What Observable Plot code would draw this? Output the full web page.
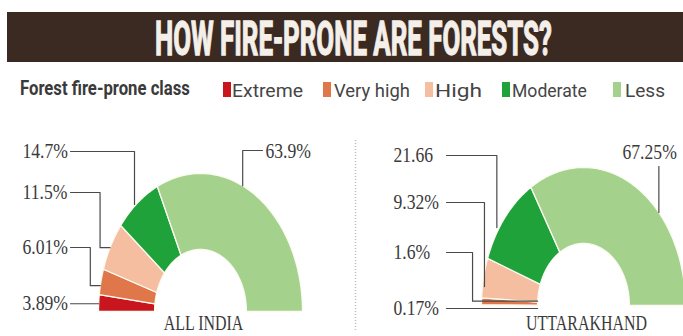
<!DOCTYPE html>
<html><head><meta charset="utf-8">
<script src="https://cdn.jsdelivr.net/npm/d3@7"></script>
<script src="https://cdn.jsdelivr.net/npm/@observablehq/plot@0.6"></script>
<style>
html,body{margin:0;padding:0;background:#fff;}
#wrap{width:683px;height:336px;overflow:hidden;position:relative;}
svg{display:block;}
</style></head><body><div id="wrap"></div>
<script>
// ---------- data ----------
const title = "HOW FIRE-PRONE ARE FORESTS?";
const legendTitle = "Forest fire-prone class";
const classes = ["Extreme", "Very high", "High", "Moderate", "Less"];
const classColors = ["#c9161e", "#e0774b", "#f6bea0", "#20a23a", "#a4d28d"];
const regions = ["ALL INDIA", "UTTARAKHAND"];
const allIndiaShares = [3.89, 6.01, 11.5, 14.7, 63.9];
const uttarakhandShares = [0.17, 1.6, 9.32, 21.66, 67.25];
const allIndiaLabels = ["3.89%", "6.01%", "11.5%", "14.7%", "63.9%"];
const uttarakhandLabels = ["0.17%", "1.6%", "9.32%", "21.66", "67.25%"];

// ---------- layout ----------
const W = 683, HEAD = 106, H = 230;
const RX = 102, RY = 138, INNER = 0.45;
const centerPx = [{px: 200, py: 311}, {px: 583, py: 305}];
const u = px => (px - centerPx[0].px) / RX;
const v = py => (centerPx[0].py - py) / RY;
const C = centerPx.map(c => ({x: u(c.px), y: v(c.py)}));

// leader layouts (t = position inside slice, row = label row in page px)
const leaderLayout = [
  { textX: 22, col: 70, items: [
    {t: 0.46, r: 1.0, row: null, dx: 0},
    {t: 0.35, r: 1.0, row: 247, dx: -10, tail: 1.0},
    {t: 0.47, r: 1.0, row: 192, dx: -10, tail: 1.0},
    {t: 0.44, r: 1.01, row: 151, dx: 0},
    {t: 0.43, r: 1.0, row: 150, dx: 0, textX: 265, col: 262, textRow: 151}
  ]},
  { textX: 393, col: 446, items: [
    {t: 0.0, r: INNER, row: 308, flat: true},
    {t: 0.52, r: 1.0, row: 252, dx: -9, tail: INNER},
    {t: 0.28, r: 1.0, row: 202, dx: 2},
    {t: 0.35, r: 1.02, row: 155, dx: 0},
    {t: 0.65, r: 1.0, row: 152, vertical: true, top: 166, textX: 622}
  ]}
];

const series = [
  {region: regions[0], shares: allIndiaShares, labels: allIndiaLabels},
  {region: regions[1], shares: uttarakhandShares, labels: uttarakhandLabels}
];

function pt(ci, f, r) {
  const th = Math.PI * (1 - f);
  return [C[ci].x + r * Math.cos(th), C[ci].y + r * Math.sin(th)];
}

const slices = [], leaders = [], labels = [], names = [];
series.forEach((s, ci) => {
  const total = d3.sum(s.shares);
  let acc = 0;
  s.shares.forEach((val, i) => {
    const a0 = acc / total, a1 = (acc + val) / total;
    acc += val;
    const key = ci + "-" + i;
    const n = Math.max(2, Math.ceil((a1 - a0) * 180));
    for (let k = 0; k <= n; k++) {
      const [x, y] = pt(ci, a0 + (a1 - a0) * k / n, 1);
      slices.push({key, cls: classes[i], x, y});
    }
    for (let k = n; k >= 0; k--) {
      const [x, y] = pt(ci, a0 + (a1 - a0) * k / n, INNER);
      slices.push({key, cls: classes[i], x, y});
    }
    // leader
    const L = leaderLayout[ci], it = L.items[i];
    const f = a0 + it.t * (a1 - a0);
    const [ax, ay] = pt(ci, f, it.r);
    const col = u(it.col ?? L.col);
    let pts;
    if (it.vertical) {
      pts = [[ax, v(it.top)], [ax, ay]];
    } else if (it.flat) {
      pts = [[col, v(it.row)], [ax, v(it.row)]];
    } else {
      const row = it.row == null ? ay : v(it.row);
      const ex = ax + it.dx / RX;
      pts = [[col, row], [ex, row], [ex, ay]];
      if (it.tail != null) pts.push([pt(ci, f, it.tail)[0], ay]);
    }
    pts.forEach(([x, y]) => leaders.push({key, x, y}));
    const textRow = it.textRow != null ? v(it.textRow) : (it.row == null ? ay : v(it.row));
    labels.push({x: u(it.textX ?? L.textX), y: textRow, text: s.labels[i]});
  });
  names.push({x: C[ci].x + 3 / RX, y: v(323), text: s.region});
});

// horizontal condensing helper (scale about the anchor point)
function condense(t, k, anchor) {
  const bb = t.getBBox();
  const p = anchor === "middle" ? bb.x + bb.width / 2 : bb.x;
  const prev = t.getAttribute("transform") || "";
  t.setAttribute("transform", `${prev} translate(${p},0) scale(${k},1) translate(${-p},0)`.trim());
}
function fitWidth(t, width) {
  const len = t.getComputedTextLength();
  condense(t, width / len, "start");
}

// ---------- header (title + legend) ----------
const wrap = d3.select("#wrap");
const head = wrap.append("svg").attr("width", W).attr("height", HEAD);
head.append("rect").attr("x", 7).attr("y", 12).attr("width", W - 7).attr("height", 50).attr("fill", "#3b2a22");
const tt = head.append("text").attr("x", 155).attr("y", 55)
  .attr("font-family", "Roboto, 'Liberation Sans', sans-serif").attr("font-weight", "bold")
  .attr("font-size", 49).attr("fill", "#f4efe9").attr("stroke", "#f4efe9").attr("stroke-width", 1.4)
  .text(title);
fitWidth(tt.node(), 397);
const lt = head.append("text").attr("x", 20).attr("y", 95)
  .attr("font-family", "Roboto, 'Liberation Sans', sans-serif").attr("font-weight", "bold")
  .attr("font-size", 20).attr("fill", "#3a3a3a").text(legendTitle);
fitWidth(lt.node(), 170);
const legendPos = [{sw: 223, tx: 232, tl: 71}, {sw: 323, tx: 334, tl: 76}, {sw: 425, tx: 435, tl: 47}, {sw: 502, tx: 512, tl: 75}, {sw: 613, tx: 625, tl: 40}];
classes.forEach((c, i) => {
  const p = legendPos[i];
  head.append("rect").attr("x", p.sw).attr("y", 82).attr("width", 8).attr("height", 15).attr("fill", classColors[i]);
  const t = head.append("text").attr("x", p.tx).attr("y", 97)
    .attr("font-family", "Roboto, 'Liberation Sans', sans-serif")
    .attr("font-size", 19).attr("fill", "#454545").text(c);
  fitWidth(t.node(), p.tl);
});

// ---------- chart ----------
const chart = Plot.plot({
  width: W, height: H,
  marginTop: 0, marginBottom: 0, marginLeft: 0, marginRight: 0,
  x: {domain: [u(0), u(W)], range: [0, W], axis: null},
  y: {domain: [v(HEAD + H), v(HEAD)], range: [H, 0], axis: null},
  color: {domain: classes, range: classColors},
  style: {background: "transparent"},
  marks: [
    Plot.ruleX([{x: u(355), y1: v(140), y2: v(330)}], {x: "x", y1: "y1", y2: "y2", stroke: "#bdbdbd", strokeWidth: 1.5, strokeDasharray: "1,2"}),
    Plot.line(slices, {x: "x", y: "y", z: "key", fill: "cls", stroke: "#fbfbf2", strokeWidth: 1.3, curve: "linear-closed"}),
    Plot.line(leaders, {x: "x", y: "y", z: "key", stroke: "#4a4a4a", strokeWidth: 1.2}),
    Plot.text(labels, {x: "x", y: "y", text: "text", textAnchor: "start", fontSize: 21, fontFamily: "'Liberation Serif', serif", fill: "#3a3a3a"}),
    Plot.text(names, {x: "x", y: "y", text: "text", textAnchor: "middle", fontSize: 21, fontFamily: "'Liberation Serif', serif", fill: "#3a3a3a"})
  ]
});
wrap.node().appendChild(chart);

// condense the serif labels like the newspaper typeface
const groups = chart.querySelectorAll('g[aria-label="text"]');
const factors = [0.84, 0.76];
const anchors = ["start", "middle"];
groups.forEach((g, gi) => {
  g.querySelectorAll("text").forEach(t => condense(t, factors[gi], anchors[gi]));
});
</script>
</body></html>
